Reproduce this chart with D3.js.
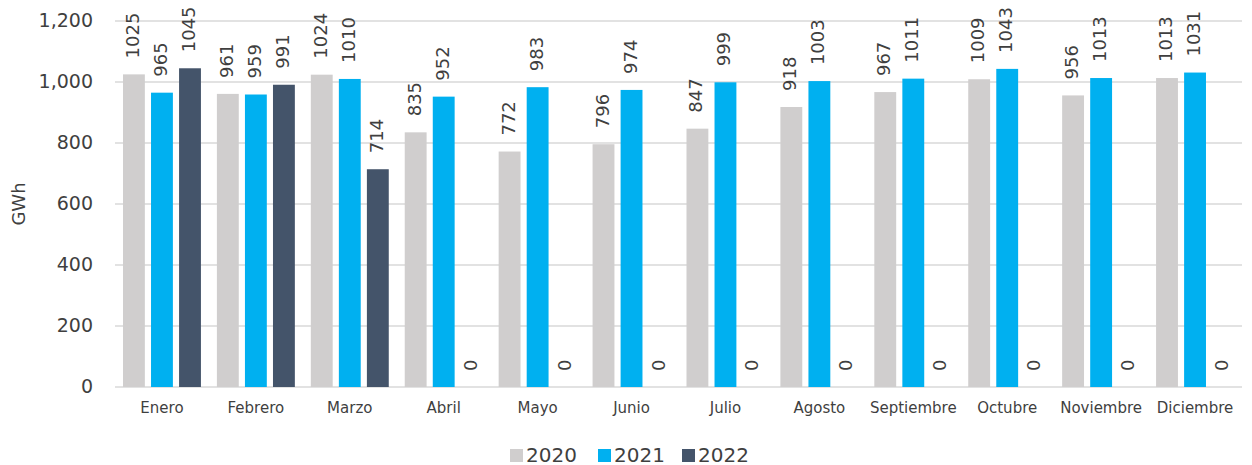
<!DOCTYPE html>
<html><head><meta charset="utf-8">
<script src="https://cdn.jsdelivr.net/npm/d3@7"></script>
<style>body{margin:0;background:#fff;font-family:"DejaVu Sans",sans-serif;}</style>
</head><body><svg id="c" width="1252" height="465"></svg>
<script>
const categories=["Enero","Febrero","Marzo","Abril","Mayo","Junio","Julio","Agosto","Septiembre","Octubre","Noviembre","Diciembre"];
const seriesNames=["2020","2021","2022"];
const v2020=[1025,961,1024,835,772,796,847,918,967,1009,956,1013];
const v2021=[965,959,1010,952,983,974,999,1003,1011,1043,1013,1031];
const v2022=[1045,991,714,0,0,0,0,0,0,0,0,0];
const yTicks=[0,200,400,600,800,1000,1200];
const colors=["#d0cece","#00b0f0","#44546a"];
const series=[v2020,v2021,v2022];

const svg=d3.select("#c");
const m={l:115,r:1242,t:21,b:387};
const x=d3.scaleBand().domain(categories).range([m.l,m.r]).paddingInner(0.17).paddingOuter(0.085);
const xs=d3.scaleBand().domain(seriesNames).range([0,x.bandwidth()]).paddingInner(0.22);
const y=d3.scaleLinear().domain([0,1200]).range([m.b,m.t]);

svg.append("g").selectAll("line").data(yTicks).join("line")
 .attr("x1",m.l).attr("x2",m.r).attr("y1",d=>y(d)).attr("y2",d=>y(d))
 .attr("stroke","#d9d9d9").attr("stroke-width",1.5);
svg.append("g").selectAll("text").data(yTicks).join("text")
 .attr("x",93).attr("y",d=>y(d)).attr("text-anchor","end").attr("dominant-baseline","middle")
 .attr("font-size",19).attr("fill","#3f3f3f").text(d=>d3.format(",")(d));
svg.append("text").attr("transform",`translate(20,${(m.t+m.b)/2}) rotate(-90)`)
 .attr("text-anchor","middle").attr("dominant-baseline","middle").attr("font-size",18).attr("fill","#3f3f3f").text("GWh");

const g=svg.append("g");
series.forEach((vals,si)=>{
  const gg=g.append("g");
  gg.selectAll("rect").data(vals).join("rect")
   .attr("x",(d,i)=>x(categories[i])+xs(seriesNames[si]))
   .attr("width",xs.bandwidth())
   .attr("y",d=>y(d)).attr("height",d=>y(0)-y(d)).attr("fill",colors[si]);
  gg.selectAll("text").data(vals).join("text")
   .attr("transform",(d,i)=>`translate(${x(categories[i])+xs(seriesNames[si])+xs.bandwidth()/2},${y(d)-16}) rotate(-90)`)
   .attr("dominant-baseline","middle").attr("font-size",18).attr("fill","#3f3f3f").text(d=>d);
});

svg.append("g").selectAll("text").data(categories).join("text")
 .attr("x",d=>x(d)+x.bandwidth()/2).attr("y",408).attr("text-anchor","middle").attr("dominant-baseline","middle")
 .attr("font-size",15).attr("fill","#3f3f3f").text(d=>d);

const legX=[510,598,682];
const lg=svg.append("g");
seriesNames.forEach((s,i)=>{
  lg.append("rect").attr("x",legX[i]).attr("y",449).attr("width",13).attr("height",13).attr("fill",colors[i]);
  lg.append("text").attr("x",legX[i]+16).attr("y",456).attr("dominant-baseline","middle").attr("font-size",20).attr("fill","#3f3f3f").text(s);
});
</script></body></html>
